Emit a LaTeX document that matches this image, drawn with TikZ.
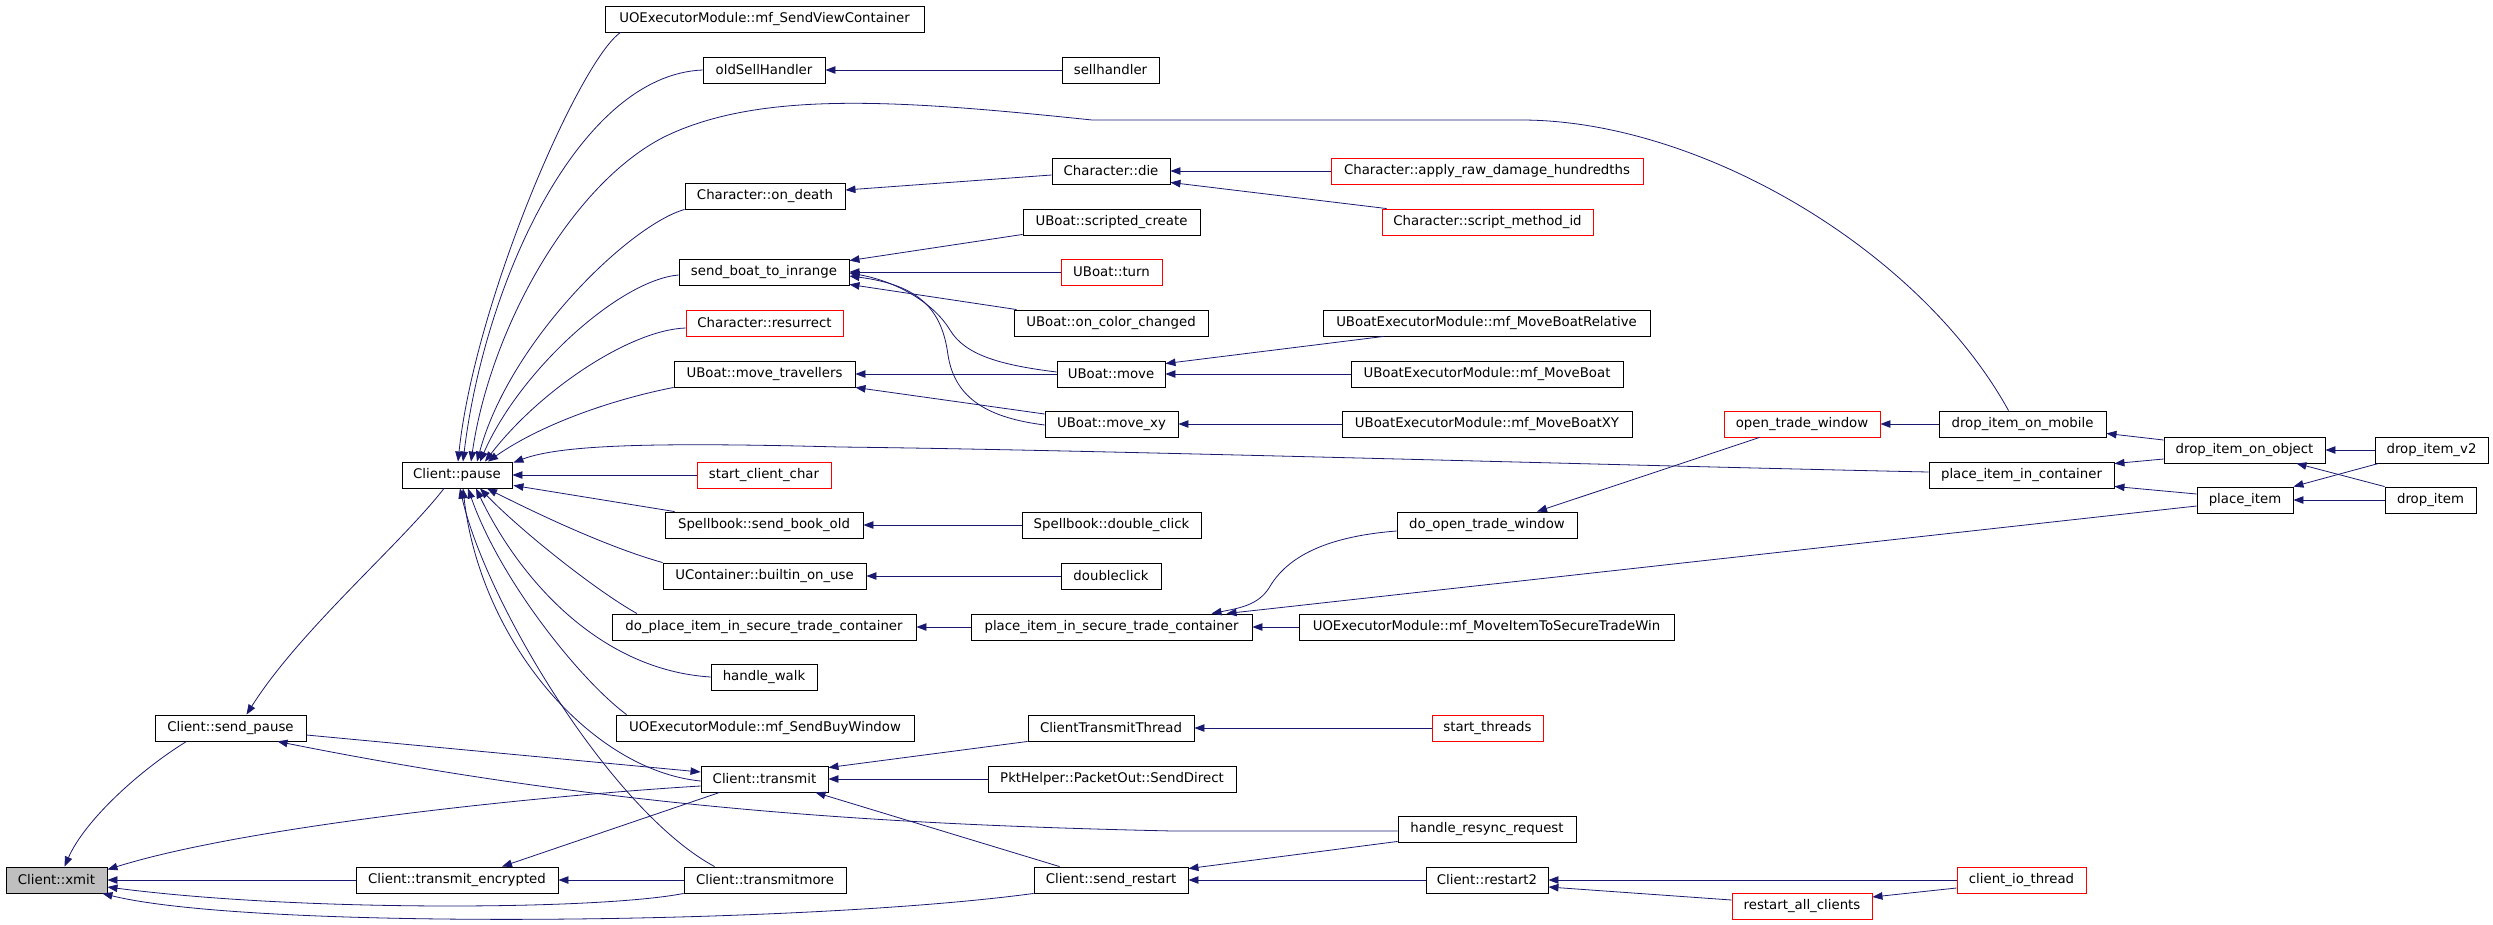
\documentclass[tikz,border=0pt]{standalone}
\usepackage{fontspec}
\setmainfont{DejaVu Sans}
\usepackage{tikz}
\usetikzlibrary{calc,arrows.meta}
\definecolor{callblue}{RGB}{25,25,112}
\tikzset{
  fn/.style={draw=black, line width=0.9pt, minimum height=26, inner sep=0pt, font=\fontsize{13.3}{16}\selectfont},
  fnred/.style={fn, draw=red},
  call/.style={draw=callblue, line width=0.8pt, -{Triangle[length=10pt,width=7.5pt]}}
}

\begin{document}
\begin{tikzpicture}[x=1pt,y=-1pt]
\useasboundingbox (0,0) rectangle (2493,924);
% column 0 and 1
\node[fn, fill=black!25, minimum width=101] (xmit) at (56.5,880) {Client::xmit};
\node[fn, minimum width=151] (sendpause) at (230.5,728) {Client::send\_pause};
\node[fn, minimum width=110] (pause) at (457,475) {Client::pause};
\node[fn, minimum width=202] (transmitenc) at (457,880) {Client::transmit\_encrypted};
% column 2
\node[fn, minimum width=319] (svc) at (764.5,19) {UOExecutorModule::mf\_SendViewContainer};
\node[fn, minimum width=122] (oldsell) at (764,70) {oldSellHandler};
\node[fn, minimum width=160] (ondeath) at (765,196) {Character::on\_death};
\node[fn, minimum width=170] (sendboat) at (764,272) {send\_boat\_to\_inrange};
\node[fnred, minimum width=157] (resurrect) at (764.5,323) {Character::resurrect};
\node[fn, minimum width=181] (movetrav) at (764.5,374) {UBoat::move\_travellers};
\node[fnred, minimum width=134] (startchar) at (764,475) {start\_client\_char};
\node[fn, minimum width=198] (sendbookold) at (764,525) {Spellbook::send\_book\_old};
\node[fn, minimum width=203] (builtin) at (764.5,576) {UContainer::builtin\_on\_use};
\node[fn, minimum width=304] (doplace) at (764,627) {do\_place\_item\_in\_secure\_trade\_container};
\node[fn, minimum width=106] (handlewalk) at (764,677) {handle\_walk};
\node[fn, minimum width=298] (sendbuy) at (765,728) {UOExecutorModule::mf\_SendBuyWindow};
\node[fn, minimum width=127] (transmit) at (764.5,779) {Client::transmit};
\node[fn, minimum width=162] (transmitmore) at (765,880) {Client::transmitmore};
% column 3
\node[fn, minimum width=97] (sellhandler) at (1110.5,70) {sellhandler};
\node[fn, minimum width=118] (die) at (1111,171) {Character::die};
\node[fn, minimum width=177] (scripted) at (1111.5,222) {UBoat::scripted\_create};
\node[fnred, minimum width=101] (turn) at (1111.5,272) {UBoat::turn};
\node[fn, minimum width=194] (colorchg) at (1111,323) {UBoat::on\_color\_changed};
\node[fn, minimum width=108] (move) at (1111,374) {UBoat::move};
\node[fn, minimum width=133] (movexy) at (1111.5,424) {UBoat::move\_xy};
\node[fn, minimum width=179] (dblclick) at (1111.5,525) {Spellbook::double\_click};
\node[fn, minimum width=100] (doubleclick) at (1111,576) {doubleclick};
\node[fn, minimum width=281] (pist) at (1111.5,627) {place\_item\_in\_secure\_trade\_container};
\node[fn, minimum width=166] (ctt) at (1111,728) {ClientTransmitThread};
\node[fn, minimum width=248] (senddirect) at (1112,779) {PktHelper::PacketOut::SendDirect};
\node[fn, minimum width=154] (sendrestart) at (1111,880) {Client::send\_restart};
% column 4
\node[fnred, minimum width=312] (applyraw) at (1487,171) {Character::apply\_raw\_damage\_hundredths};
\node[fnred, minimum width=211] (scriptmid) at (1487.5,222) {Character::script\_method\_id};
\node[fn, minimum width=327] (moverel) at (1486.5,323) {UBoatExecutorModule::mf\_MoveBoatRelative};
\node[fn, minimum width=272] (moveboat) at (1487,374) {UBoatExecutorModule::mf\_MoveBoat};
\node[fn, minimum width=290] (movexyexec) at (1487,424) {UBoatExecutorModule::mf\_MoveBoatXY};
\node[fn, minimum width=180] (doopen) at (1487,525) {do\_open\_trade\_window};
\node[fn, minimum width=375] (moveitem) at (1486.5,627) {UOExecutorModule::mf\_MoveItemToSecureTradeWin};
\node[fnred, minimum width=111] (startthreads) at (1487.5,728) {start\_threads};
\node[fn, minimum width=178] (resync) at (1487,829) {handle\_resync\_request};
\node[fn, minimum width=122] (restart2) at (1487,880) {Client::restart2};
% right columns
\node[fnred, minimum width=156] (opentrade) at (1802,424) {open\_trade\_window};
\node[fnred, minimum width=140] (restartall) at (1802,906) {restart\_all\_clients};
\node[fn, minimum width=167] (dropmobile) at (2022.5,424) {drop\_item\_on\_mobile};
\node[fn, minimum width=185] (piic) at (2021.5,475) {place\_item\_in\_container};
\node[fnred, minimum width=129] (clientio) at (2021.5,880) {client\_io\_thread};
\node[fn, minimum width=161] (dropobject) at (2244.5,450) {drop\_item\_on\_object};
\node[fn, minimum width=96] (placeitem) at (2245,500) {place\_item};
\node[fn, minimum width=113] (dropv2) at (2431.5,450) {drop\_item\_v2};
\node[fn, minimum width=91] (dropitem) at (2430.5,500) {drop\_item};

% callers of Client::pause
\draw[call] ($(svc.south west)+(16,0)$) .. controls (580,60) and (475,300) .. ($(pause.north)+(1,0)$);
\draw[call] (oldsell.west) .. controls (580,75) and (485,280) .. ($(pause.north)+(6,0)$);
\draw[call] ($(dropmobile.north)+(-14,0)$) .. controls (1920,250) and (1700,120) .. (1521,120) -- (1092,120)
  .. controls (900,100) and (760,90) .. (664,137) .. controls (570,185) and (490,330) .. ($(pause.north)+(14,0)$);
\draw[call] (ondeath.south west) .. controls (630,225) and (510,340) .. ($(pause.north)+(20,0)$);
\draw[call] ($(sendboat.west)+(0,3)$) .. controls (620,280) and (520,370) .. ($(pause.north)+(23,0)$);
\draw[call] ($(resurrect.west)+(0,5)$) .. controls (630,330) and (540,390) .. ($(pause.north)+(28,0)$);
\draw[call] (movetrav.south west) .. controls (610,400) and (540,425) .. ($(pause.north)+(31,0)$);
\draw[call] ($(piic.west)+(0,-3)$) .. controls (1600,465) and (1100,450) .. (840,447) .. controls (650,442) and (560,445) .. ($(pause.north east)+(1,1)$);
\draw[call] (startchar.west) -- (pause.east);
\draw[call] ($(sendbookold.north west)+(10,0)$) -- ($(pause.south east)+(1,-3)$);
\draw[call] (builtin.north west) .. controls (600,545) and (520,505) .. ($(pause.south)+(30,0)$);
\draw[call] ($(doplace.north)+(-127,0)$) .. controls (595,590) and (520,530) .. ($(pause.south)+(23,0)$);
\draw[call] (handlewalk.west) .. controls (600,670) and (520,580) .. ($(pause.south)+(19,0)$);
\draw[call] ($(sendbuy.north west)+(11,0)$) .. controls (580,680) and (500,580) .. ($(pause.south)+(11,0)$);
\draw[call] ($(transmit.west)+(0,2)$) .. controls (590,770) and (480,640) .. ($(pause.south)+(6,0)$);
\draw[call] ($(transmitmore.north west)+(31,0)$) .. controls (610,810) and (485,600) .. ($(pause.south)+(3,0)$);
\draw[call] ($(pause.south)+(-13,0)$) .. controls (400,545) and (300,630) .. ($(sendpause.north)+(16,0)$);

% towards Client::xmit
\draw[call] ($(sendpause.south west)+(32,0)$) .. controls (140,770) and (85,820) .. ($(xmit.north)+(8,0)$);
\draw[call] ($(sendpause.east)+(0,7)$) -- ($(transmit.west)+(0,-7)$);
\draw[call] ($(resync.west)+(0,2)$) -- (1173,831) .. controls (900,825) and (620,810) .. ($(sendpause.south)+(47,0)$);
\draw[call] ($(transmit.west)+(0,7)$) .. controls (550,795) and (250,825) .. ($(xmit.north east)+(0,3)$);
\draw[call] ($(transmit.south west)+(19,0)$) -- ($(transmitenc.north)+(45,0)$);
\draw[call] (transmitenc.west) -- (xmit.east);
\draw[call] (transmitmore.west) -- (transmitenc.east);
\draw[call] (transmitmore.south west) .. controls (600,910) and (300,912) .. ($(xmit.east)+(0,7)$);
\draw[call] (sendrestart.south west) .. controls (800,925) and (250,930) .. ($(xmit.south east)+(-5,0)$);
\draw[call] ($(sendrestart.north west)+(26,0)$) -- ($(transmit.south east)+(-13,0)$);
\draw[call] (ctt.south west) -- ($(transmit.north east)+(0,2)$);
\draw[call] (senddirect.west) -- (transmit.east);
\draw[call] (startthreads.west) -- (ctt.east);
\draw[call] ($(resync.south west)+(0,-1)$) -- ($(sendrestart.north east)+(0,2)$);
\draw[call] (restart2.west) -- (sendrestart.east);
\draw[call] ($(restartall.west)+(0,-6)$) -- ($(restart2.east)+(0,7)$);
\draw[call] (clientio.west) -- (restart2.east);
\draw[call] ($(clientio.west)+(0,8)$) -- ($(restartall.east)+(0,-9)$);

% upper right
\draw[call] (sellhandler.west) -- (oldsell.east);
\draw[call] ($(die.west)+(0,4)$) -- ($(ondeath.east)+(0,-6)$);
\draw[call] (applyraw.west) -- (die.east);
\draw[call] ($(scriptmid.north west)+(5,0)$) -- ($(die.south east)+(0,-2)$);
\draw[call] ($(scripted.south west)+(0,-1)$) -- ($(sendboat.north east)+(0,2)$);
\draw[call] (turn.west) -- (sendboat.east);
\draw[call] ($(colorchg.north west)+(3,0)$) -- ($(sendboat.south east)+(0,-1)$);
\draw[call] ($(move.west)+(0,-2)$) .. controls (1000,365) and (965,355) .. (950,330) .. controls (935,305) and (900,282) .. ($(sendboat.east)+(0,1)$);
\draw[call] ($(movexy.west)+(0,1)$) .. controls (990,418) and (955,400) .. (948,355) .. controls (942,310) and (920,285) .. ($(sendboat.east)+(0,4)$);
\draw[call] (move.west) -- (movetrav.east);
\draw[call] ($(movexy.west)+(0,-10)$) -- (movetrav.south east);
\draw[call] ($(moverel.south west)+(61,0)$) -- ($(move.north east)+(0,3)$);
\draw[call] (moveboat.west) -- (move.east);
\draw[call] (movexyexec.west) -- (movexy.east);

% middle
\draw[call] (dblclick.west) -- (sendbookold.east);
\draw[call] (doubleclick.west) -- (builtin.east);
\draw[call] (pist.west) -- (doplace.east);
\draw[call] (moveitem.west) -- (pist.east);
\draw[call] ($(doopen.west)+(0,6)$) .. controls (1320,537) and (1285,560) .. (1269,588) .. controls (1258,605) and (1240,608) .. ($(pist.north)+(100,0)$);
\draw[call] ($(placeitem.west)+(0,6)$) -- ($(pist.north)+(115,0)$);
\draw[call] ($(opentrade.south west)+(36,0)$) -- ($(doopen.north)+(50,0)$);
\draw[call] (dropmobile.west) -- (opentrade.east);
\draw[call] ($(dropobject.west)+(0,-10)$) -- ($(dropmobile.south east)+(0,-4)$);
\draw[call] ($(dropobject.west)+(0,9)$) -- ($(piic.north east)+(0,2)$);
\draw[call] (dropv2.west) -- (dropobject.east);
\draw[call] (dropitem.north west) -- ($(dropobject.south)+(52,0)$);
\draw[call] ($(dropv2.south west)+(4,0)$) -- (placeitem.north east);
\draw[call] (dropitem.west) -- (placeitem.east);
\draw[call] ($(placeitem.west)+(0,-6)$) -- ($(piic.south east)+(0,-2)$);
\end{tikzpicture}
\end{document}
